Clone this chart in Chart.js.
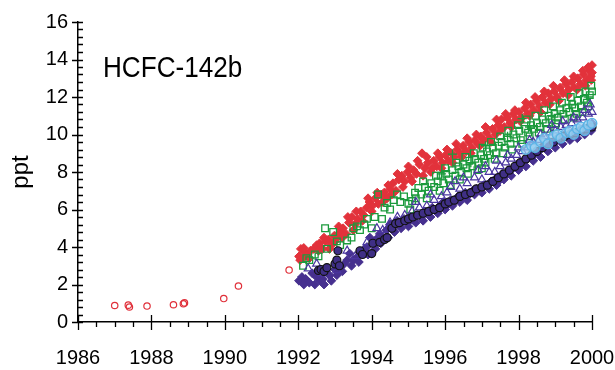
<!DOCTYPE html>
<html lang="en">
<head>
    <meta charset="UTF-8">
    <title>HCFC-142b</title>
    <script src="https://cdn.jsdelivr.net/npm/chart.js"></script>
    <style>
        html, body { margin: 0; padding: 0; background: #fff; }
        #wrap { width: 615px; height: 370px; }
    </style>
</head>
<body>
    <div id="wrap"><canvas id="myChart" width="615" height="370"></canvas></div>
    <script>
        // tick labels
        const xTicks = [1986, 1988, 1990, 1992, 1994, 1996, 1998, 2000];
        const yTicks = [0, 2, 4, 6, 8, 10, 12, 14, 16];

        // early archive samples (open red circles)
        const archive = [[1987.0,0.88],[1987.37,0.9],[1987.4,0.8],[1987.88,0.85],[1988.6,0.92],[1988.87,0.97],[1988.9,1.02],[1989.97,1.25],[1990.37,1.92],[1991.75,2.77]];

        // red filled diamonds
        const redPts = [[1992.02,3.5],[1992.07,3.9],[1992.12,3.4],[1992.18,3.7],[1992.25,3.6],[1992.33,3.8],[1992.42,3.9],[1992.5,4.1],[1992.58,4.2],[1992.66,3.9],[1992.74,4.3],[1992.82,4.4],[1992.9,4.1],[1992.98,4.6],
            [1993.06,4.5],[1993.14,4.8],[1993.22,5.0],[1993.3,4.7],[1993.38,5.3],[1993.46,5.6],[1993.54,5.2],[1993.62,5.5],[1993.7,5.9],[1993.78,5.7],[1993.86,6.1],[1993.94,6.4],
            [1994.02,6.2],[1994.1,6.6],[1994.18,6.3],[1994.26,6.8],[1994.34,6.9],[1994.42,6.6],[1994.5,7.1],[1994.58,7.4],[1994.66,7.0],[1994.74,7.6],[1994.82,7.8],[1994.9,7.5],[1994.98,8.0],
            [1995.06,7.7],[1995.14,8.1],[1995.22,7.9],[1995.3,8.4],[1995.37,9.0],[1995.45,8.2],[1995.53,8.5],[1995.61,8.0],[1995.69,8.6],[1995.77,8.3],[1995.85,8.8],[1995.93,8.5],
            [1996.01,8.9],[1996.09,8.6],[1996.17,9.0],[1996.25,8.8],[1996.33,9.2],[1996.41,9.0],[1996.49,9.4],[1996.57,9.1],[1996.65,9.6],[1996.73,9.3],[1996.81,9.7],[1996.89,9.5],[1996.97,9.9],
            [1997.05,9.7],[1997.13,10.1],[1997.21,9.8],[1997.29,10.3],[1997.37,10.0],[1997.45,10.5],[1997.53,10.8],[1997.61,10.4],[1997.69,10.9],[1997.77,10.6],[1997.85,11.1],[1997.93,10.8],
            [1998.01,11.2],[1998.09,10.9],[1998.17,11.4],[1998.25,11.1],[1998.33,11.6],[1998.41,11.3],[1998.49,11.8],[1998.57,11.5],[1998.65,12.0],[1998.73,11.7],[1998.81,12.2],[1998.89,11.9],[1998.97,12.3],
            [1999.05,12.0],[1999.13,12.5],[1999.21,12.2],[1999.29,12.7],[1999.37,12.4],[1999.45,12.8],[1999.53,12.5],[1999.61,13.0],[1999.69,12.7],[1999.77,13.2],[1999.85,12.9],[1999.93,13.4],[1999.97,13.1],[2000.0,13.7],
            [1992.05,3.3],[1992.15,3.95],[1992.3,3.4],[1992.55,3.8],[1992.7,4.5],[1992.85,3.9],[1993.0,4.3],[1993.1,5.1],[1993.2,4.5],[1993.35,5.6],[1993.5,4.9],[1993.58,5.9],[1993.75,5.4],[1993.9,6.6],
            [1994.0,5.9],[1994.15,6.9],[1994.3,6.4],[1994.45,7.3],[1994.55,6.8],[1994.7,7.9],[1994.85,7.2],[1995.0,8.3],[1995.1,7.5],[1995.25,8.6],[1995.4,7.8],[1995.5,8.8],[1995.65,8.2],[1995.8,9.0],[1995.9,8.2],
            [1996.05,9.2],[1996.2,8.5],[1996.3,9.5],[1996.45,8.8],[1996.6,9.8],[1996.7,9.0],[1996.85,10.0],[1996.95,9.4],[1997.1,10.4],[1997.25,9.6],[1997.4,10.8],[1997.5,10.2],[1997.65,11.1],[1997.8,10.4],[1997.9,11.3],
            [1998.05,10.7],[1998.2,11.7],[1998.3,11.0],[1998.45,12.0],[1998.6,11.2],[1998.7,12.3],[1998.85,11.6],[1998.95,12.6],[1999.1,11.8],[1999.25,12.9],[1999.35,12.1],[1999.5,13.1],[1999.6,12.4],[1999.75,13.4],
            [1999.82,12.6],[1999.9,13.6],[1999.98,12.9],[2000.0,13.3]];

        // green open squares
        const greenPts = [[1992.13,3.0],[1992.22,3.4],[1992.3,3.3],[1992.45,3.6],[1992.55,3.5],[1992.73,5.0],[1992.78,3.9],[1992.95,4.8],
            [1993.05,4.3],[1993.14,4.1],[1993.33,4.35],[1993.45,4.5],[1993.5,5.0],[1993.6,5.1],[1993.68,4.9],[1993.8,5.2],[1993.87,5.5],
            [1994.0,5.0],[1994.08,5.6],[1994.17,6.8],[1994.28,5.5],[1994.35,6.1],[1994.42,6.35],[1994.5,6.0],[1994.6,6.5],[1994.69,6.8],[1994.78,6.4],[1994.88,6.7],
            [1995.0,6.3],[1995.1,6.45],[1995.18,6.9],[1995.27,7.15],[1995.35,6.8],[1995.45,7.2],[1995.55,7.0],[1995.62,7.4],[1995.7,7.2],[1995.8,7.5],[1995.88,7.8],[1995.95,7.4],
            [1996.03,7.9],[1996.1,7.6],[1996.2,8.1],[1996.28,7.8],[1996.36,8.3],[1996.44,8.0],[1996.5,8.4],[1996.58,8.2],[1996.66,8.6],[1996.74,8.3],[1996.82,8.7],[1996.9,8.5],[1996.98,8.9],[1997.0,8.2],
            [1997.06,8.7],[1997.14,9.1],[1997.22,8.9],[1997.3,9.3],[1997.38,9.0],[1997.46,9.4],[1997.54,9.6],[1997.62,9.3],[1997.7,9.8],[1997.78,9.5],[1997.86,10.0],[1997.94,9.8],
            [1998.02,10.2],[1998.1,9.5],[1998.18,10.3],[1998.26,10.1],[1998.34,10.5],[1998.42,10.3],[1998.5,10.6],[1998.58,10.4],[1998.66,10.8],[1998.74,10.6],[1998.82,11.0],[1998.9,10.8],[1998.98,11.1],
            [1999.0,10.4],[1999.06,10.9],[1999.14,11.3],[1999.22,11.1],[1999.3,11.4],[1999.38,11.2],[1999.46,11.6],[1999.5,10.9],[1999.54,11.4],[1999.62,11.8],[1999.7,11.5],[1999.78,11.9],[1999.86,11.7],[1999.94,12.1],[2000.0,12.3],
            [1995.05,6.0],[1995.2,6.6],[1995.4,7.5],[1995.5,6.6],[1995.75,7.8],[1995.85,7.0],[1996.0,8.2],[1996.15,7.3],[1996.3,8.5],[1996.4,7.6],[1996.55,8.8],[1996.62,7.9],[1996.78,9.0],[1996.88,8.1],
            [1997.02,9.3],[1997.1,8.5],[1997.25,9.6],[1997.35,8.7],[1997.5,9.9],[1997.58,9.0],[1997.72,10.2],[1997.82,9.2],[1997.98,10.5],[1998.06,9.7],[1998.22,10.8],[1998.3,9.9],[1998.46,11.0],[1998.55,10.1],
            [1998.7,11.3],[1998.78,10.3],[1998.94,11.5],[1999.02,10.6],[1999.18,11.7],[1999.26,10.8],[1999.42,12.0],[1999.58,11.1],[1999.66,12.2],[1999.74,11.2],[1999.82,12.3],[1999.9,11.5],[1999.98,12.6]];

        // green crosses
        const greenCross = [[1995.9,7.9],[1996.2,8.95],[1996.7,8.5],[1997.1,9.4],[1997.7,9.9],[1998.1,10.85],[1998.3,10.4],[1998.9,11.0],[1999.4,11.6],[1999.9,12.0]];

        // purple filled diamonds
        const purplePts = [[1992.02,2.2],[1992.1,2.4],[1992.2,2.3],[1992.3,2.1],[1992.38,2.6],[1992.5,2.4],[1992.6,2.2],[1992.67,2.3],[1992.75,2.7],[1992.85,2.5],
            [1993.0,2.8],[1993.1,2.7],[1993.14,2.9],[1993.25,3.1],[1993.33,3.3],[1993.4,3.65],[1993.5,3.3],[1993.6,3.45],[1993.7,3.7],[1993.8,3.9],[1993.87,4.0],[1993.95,4.5],
            [1994.05,4.2],[1994.12,4.4],[1994.22,4.7],[1994.3,4.5],[1994.4,4.9],[1994.5,5.2],[1994.58,4.9],[1994.69,5.4],[1994.78,5.2],[1994.88,5.5],[1994.98,5.3],
            [1995.06,5.6],[1995.15,5.4],[1995.25,5.7],[1995.35,5.6],[1995.45,5.9],[1995.55,5.8],[1995.65,6.1],[1995.75,5.9],[1995.85,6.2],[1995.95,6.4],
            [1996.05,6.2],[1996.15,6.5],[1996.25,6.4],[1996.35,6.7],[1996.45,6.6],[1996.55,6.9],[1996.65,6.8],[1996.75,7.0],[1996.85,7.1],[1996.95,7.0],
            [1997.05,7.3],[1997.15,7.2],[1997.25,7.5],[1997.35,7.6],[1997.45,7.5],[1997.55,7.9],[1997.65,7.8],[1997.75,8.1],[1997.85,8.2],[1997.95,8.4],
            [1998.05,8.3],[1998.15,8.6],[1998.25,8.7],[1998.35,8.9],[1998.45,9.0],[1998.55,9.1],[1998.65,9.3],[1998.75,9.4],[1998.85,9.6],[1998.95,9.5],
            [1999.05,9.8],[1999.15,9.7],[1999.25,10.0],[1999.35,9.9],[1999.45,10.1],[1999.55,10.0],[1999.65,10.2],[1999.75,10.3],[1999.85,10.2],[1999.95,10.5],[2000.0,10.6],
            [1992.15,2.0],[1992.45,2.0],[1992.7,2.0],[1992.9,2.2],[1993.05,2.5],[1993.2,2.7],[1993.45,3.0],[1993.65,3.2],[1993.9,3.6],[1994.1,3.9],[1994.25,4.2],[1994.45,4.5],
            [1994.62,4.8],[1994.8,5.0],[1995.0,5.1],[1995.2,5.3],[1995.4,5.4],[1995.6,5.6],[1995.8,5.8],[1996.0,6.0],[1996.2,6.2],[1996.4,6.4],[1996.6,6.5],[1996.8,6.8],
            [1997.0,6.9],[1997.2,7.1],[1997.4,7.3],[1997.6,7.6],[1997.8,7.8],[1998.0,8.1],[1998.2,8.3],[1998.4,8.6],[1998.6,8.8],[1998.8,9.1],[1999.0,9.3],[1999.2,9.5],
            [1999.4,9.7],[1999.6,9.8],[1999.8,10.0],[1999.98,10.2]];

        // open purple triangles
        const trianglePts = [[1992.27,2.85],[1992.5,3.1],[1992.65,2.6],[1993.05,2.75],[1993.33,3.8],[1993.55,3.5],[1993.87,4.25],[1994.14,5.0],[1994.3,4.9],[1994.5,5.3],[1994.7,5.6],[1994.9,5.7],
            [1995.1,5.9],[1995.3,6.1],[1995.5,6.2],[1995.7,6.5],[1995.9,6.7],[1996.05,6.9],[1996.27,7.5],[1996.4,7.1],[1996.6,7.4],[1996.8,7.7],[1997.0,7.6],[1997.2,8.0],[1997.35,8.0],
            [1997.5,8.3],[1997.65,8.5],[1997.8,8.7],[1997.95,8.9],[1998.1,9.1],[1998.25,9.3],[1998.4,9.6],[1998.55,9.7],[1998.7,9.9],[1998.85,10.1],[1999.0,10.2],[1999.15,10.4],
            [1999.3,10.5],[1999.45,10.6],[1999.6,10.8],[1999.75,10.9],[1999.9,11.1],[2000.0,11.2],
            [1995.2,6.4],[1995.6,6.8],[1996.15,7.2],[1996.5,7.7],[1996.9,8.1],[1997.1,8.3],[1997.4,8.6],[1997.7,8.9],[1998.0,9.3],[1998.3,9.7],[1998.6,10.0],[1998.9,10.5],
            [1999.2,10.7],[1999.5,10.9],[1999.8,11.3],[1999.95,11.6]];

        // dark filled circles
        const circlePts = [[1992.55,2.75],[1992.62,2.8],[1992.7,2.7],[1992.78,2.9],[1993.0,3.1],[1993.05,3.3],[1993.08,3.8],[1993.12,3.0],[1993.68,3.8],[1993.75,3.6],
            [1994.0,3.65],[1994.03,4.2],[1994.22,4.25],[1994.35,4.4],[1994.42,4.5],[1994.55,5.0],[1994.65,5.25],[1994.75,5.3],[1994.9,5.4],[1995.0,5.5],[1995.12,5.6],[1995.25,5.7],
            [1995.4,5.8],[1995.55,5.9],[1995.7,6.0],[1995.85,6.1],[1996.0,6.3],[1996.1,6.4],[1996.25,6.5],[1996.4,6.7],[1996.55,6.8],[1996.7,6.9],[1996.85,7.1],[1997.0,7.2],
            [1997.15,7.3],[1997.3,7.5],[1997.45,7.7],[1997.6,7.9],[1997.75,8.1],[1997.9,8.3],[1998.05,8.5],[1998.2,8.7],[1998.35,8.9],[1998.5,9.1],[1998.65,9.3],[1998.8,9.5],
            [1998.95,9.6],[1999.1,9.8],[1999.25,9.9],[1999.4,10.0],[1999.55,10.1],[1999.7,10.2],[1999.85,10.3],[2000.0,10.4]];

        // light blue circles
        const bluePts = [[1998.2,9.2],[1998.35,9.4],[1998.45,9.3],[1998.6,9.6],[1998.7,9.8],[1998.8,9.5],[1998.95,9.9],[1999.05,10.0],[1999.15,9.8],[1999.3,10.1],[1999.4,10.2],
            [1999.5,10.0],[1999.6,10.3],[1999.7,10.4],[1999.8,10.2],[1999.9,10.5],[2000.0,10.6]];

        const toXY = arr => arr.map(p => ({x: p[0], y: p[1]}));

        // minor ticks, label inside the plot
        const axisExtras = {
            id: 'axisExtras',
            afterDraw(chart) {
                const ctx = chart.ctx;
                const x = chart.scales.x, y = chart.scales.y;
                ctx.save();
                ctx.strokeStyle = '#000';
                ctx.lineWidth = 1.3;
                ctx.beginPath();
                for (let i = 0; i <= 28; i++) {
                    const v = 1986 + i * 0.5;
                    const px = Math.round(x.getPixelForValue(v)) + 0.5;
                    const major = i % 4 === 0;
                    ctx.moveTo(px, major ? y.bottom - 7 : y.bottom);
                    ctx.lineTo(px, y.bottom + (major ? 8 : 5));
                }
                for (let i = 0; i <= 40; i++) {
                    const py = Math.round(y.getPixelForValue(i * 0.4)) + 0.5;
                    const major = i % 5 === 0;
                    ctx.moveTo(major ? x.left - 6 : x.left, py);
                    ctx.lineTo(x.left + 5, py);
                }
                ctx.stroke();

                ctx.fillStyle = '#000';
                ctx.font = '30px "Liberation Sans", Arial, sans-serif';
                ctx.textBaseline = 'alphabetic';
                ctx.translate(103, 77);
                ctx.scale(0.87, 1);
                ctx.fillText('HCFC-142b', 0, 0);
                ctx.restore();
            }
        };

        const ctx = document.getElementById('myChart').getContext('2d');
        const myChart = new Chart(ctx, {
            type: 'scatter',
            data: {
                datasets: [
                    {
                        label: 'light blue',
                        data: toXY(bluePts),
                        pointStyle: 'circle',
                        pointRadius: 4.8,
                        borderColor: '#5ab4e6',
                        backgroundColor: 'rgba(150,205,240,0.75)',
                        borderWidth: 1.3
                    },
                    {
                        label: 'circles',
                        data: toXY(circlePts),
                        pointStyle: 'circle',
                        pointRadius: 4,
                        borderColor: '#111',
                        backgroundColor: '#3f2f85',
                        borderWidth: 1.2
                    },
                    {
                        label: 'triangles',
                        data: toXY(trianglePts),
                        pointStyle: 'triangle',
                        pointRadius: 4.6,
                        borderColor: '#4a36a0',
                        backgroundColor: 'rgba(0,0,0,0)',
                        borderWidth: 1.2
                    },
                    {
                        label: 'purple',
                        data: toXY(purplePts),
                        pointStyle: 'rectRot',
                        pointRadius: 4.4,
                        borderColor: '#46308f',
                        backgroundColor: '#46308f',
                        borderWidth: 1
                    },
                    {
                        label: 'green cross',
                        data: toXY(greenCross),
                        pointStyle: 'cross',
                        pointRadius: 4.6,
                        borderColor: '#1b9a3c',
                        borderWidth: 1.3
                    },
                    {
                        label: 'green',
                        data: toXY(greenPts),
                        pointStyle: 'rect',
                        pointRadius: 4.7,
                        borderColor: '#1b9a3c',
                        backgroundColor: 'rgba(0,0,0,0)',
                        borderWidth: 1.3
                    },
                    {
                        label: 'red',
                        data: toXY(redPts),
                        pointStyle: 'rectRot',
                        pointRadius: 4.4,
                        borderColor: '#e2323b',
                        backgroundColor: '#e2323b',
                        borderWidth: 1
                    },
                    {
                        label: 'archive',
                        data: toXY(archive),
                        pointStyle: 'circle',
                        pointRadius: 3.2,
                        borderColor: '#e0303a',
                        backgroundColor: 'rgba(0,0,0,0)',
                        borderWidth: 1.2
                    }
                ]
            },
            options: {
                responsive: false,
                animation: false,
                events: [],
                layout: { padding: { top: 20, right: 23, left: 0, bottom: 0 } },
                datasets: { scatter: { clip: false } },
                plugins: { legend: { display: false }, tooltip: { enabled: false } },
                scales: {
                    x: {
                        type: 'linear',
                        min: 1986,
                        max: 2000,
                        afterBuildTicks: s => { s.ticks = xTicks.map(v => ({ value: v })); },
                        afterFit: s => { s.height = 48; s.paddingRight = 0; s.paddingLeft = 0; },
                        grid: { display: false, drawTicks: false },
                        border: { display: true, color: '#000', width: 1.5 },
                        ticks: {
                            padding: 24,
                            color: '#000',
                            maxRotation: 0,
                            font: { family: '"Liberation Sans", Arial, sans-serif', size: 20 },
                            callback: v => String(v)
                        }
                    },
                    y: {
                        min: 0,
                        max: 16,
                        afterBuildTicks: s => { s.ticks = yTicks.map(v => ({ value: v })); },
                        afterFit: s => { s.width = 78; },
                        grid: { display: false, drawTicks: false },
                        border: { display: true, color: '#000', width: 1.5 },
                        title: {
                            display: true,
                            text: 'ppt',
                            color: '#000',
                            padding: { top: 7, bottom: 0 },
                            font: { family: '"Liberation Sans", Arial, sans-serif', size: 24 }
                        },
                        ticks: {
                            padding: 10,
                            color: '#000',
                            font: { family: '"Liberation Sans", Arial, sans-serif', size: 20 }
                        }
                    }
                }
            },
            plugins: [axisExtras]
        });
    </script>
</body>
</html>
